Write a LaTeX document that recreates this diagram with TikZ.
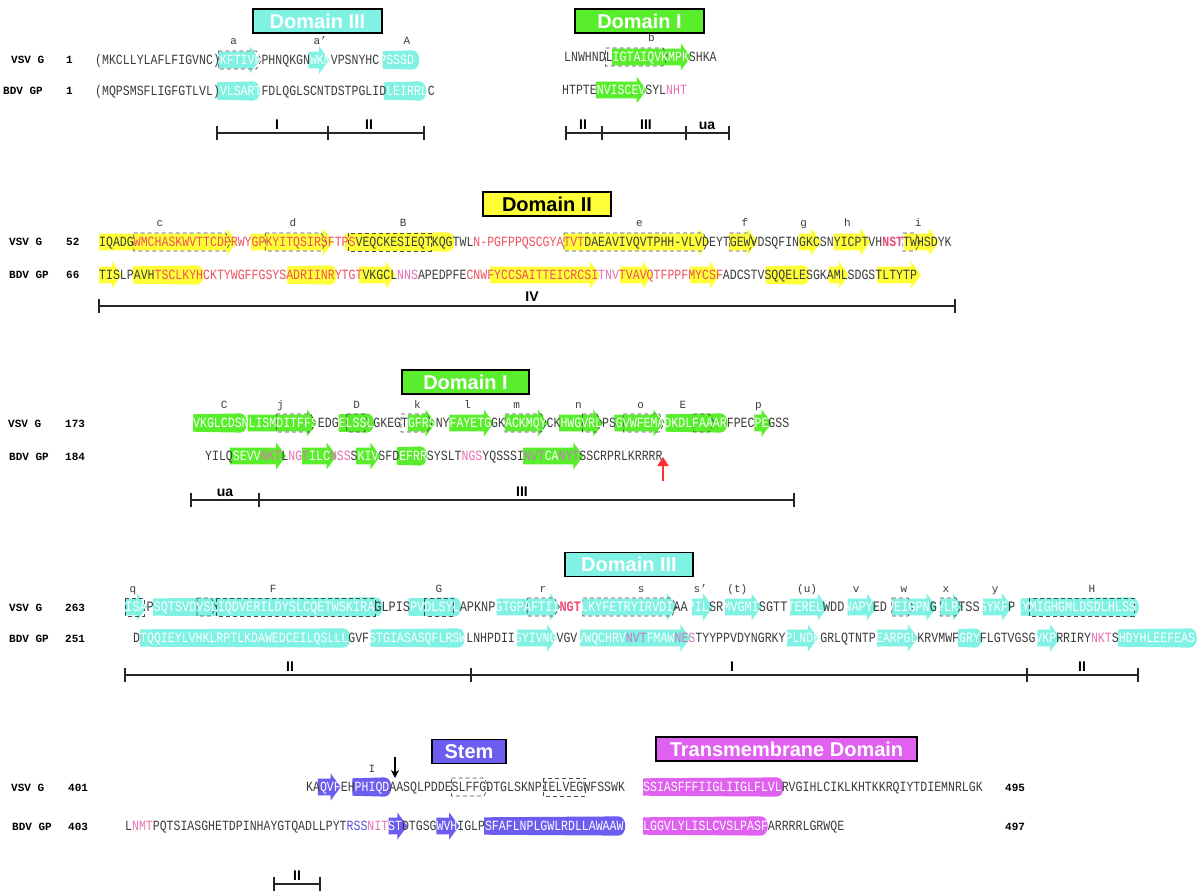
\documentclass[tikz,border=0pt]{standalone}
\usepackage{fontspec}
\usepackage{graphicx}
\setsansfont{Liberation Sans}
\newfontfamily\seqmono{Liberation Mono}
\usetikzlibrary{arrows.meta}
\definecolor{cy}{HTML}{80F2E4}
\definecolor{gr}{HTML}{58EE2C}
\definecolor{ye}{HTML}{FFFF38}
\definecolor{bl}{HTML}{6C5CF0}
\definecolor{mg}{HTML}{E060F0}
\definecolor{tk}{HTML}{3C3C3C}
\definecolor{tr}{HTML}{EE5060}
\definecolor{tp}{HTML}{E870B4}
\definecolor{tpb}{HTML}{EC4A78}
\definecolor{tv}{HTML}{C878C0}
\definecolor{tb}{HTML}{5A50D8}
\definecolor{arrred}{HTML}{FF3030}
\newcommand\qk[1]{\textcolor{tk}{#1}}
\newcommand\qw[1]{\textcolor{white}{#1}}
\newcommand\qr[1]{\textcolor{tr}{#1}}
\newcommand\qp[1]{\textcolor{tp}{#1}}
\newcommand\qpb[1]{\textcolor{tpb}{\bfseries #1}}
\newcommand\qv[1]{\textcolor{tv}{#1}}
\newcommand\qb[1]{\textcolor{tb}{#1}}
\newcommand\Row[3]{\def\rx{#1}\def\rc{#2}\def\ry{#3}}
\newcommand\Str[3]{\fill[#1] ({\rx+#2*\rc},{\ry-8.3}) -- ({\rx+#3*\rc-10},{\ry-8.3}) -- ({\rx+#3*\rc-10},{\ry-13.5}) -- ({\rx+#3*\rc},{\ry}) -- ({\rx+#3*\rc-10},{\ry+13.5}) -- ({\rx+#3*\rc-10},{\ry+8.3}) -- ({\rx+#2*\rc},{\ry+8.3}) -- cycle;}
\newcommand\Hlx[3]{\fill[#1] ({\rx+#2*\rc},{\ry-8.7}) -- ({\rx+#3*\rc-7},{\ry-9.6}) .. controls ({\rx+#3*\rc+2.3},{\ry-9.6}) and ({\rx+#3*\rc+2.3},{\ry+9.6}) .. ({\rx+#3*\rc-7},{\ry+9.6}) -- ({\rx+#2*\rc},{\ry+8.7}) -- cycle;}
\newcommand\Dsa[2]{\draw[dsh] ({\rx+#1*\rc},{\ry-9}) -- ({\rx+#2*\rc-5},{\ry-9}) -- ({\rx+#2*\rc},{\ry}) -- ({\rx+#2*\rc-5},{\ry+9}) -- ({\rx+#1*\rc},{\ry+9}) -- cycle;}
\newcommand\Dsb[2]{\draw[dsh] ({\rx+#1*\rc},{\ry-9}) rectangle ({\rx+#2*\rc},{\ry+9});}
\newcommand\Seq[2]{\pgfmathsetmacro\fsz{\rc/0.60009}\node[seq,font={\seqmono\fontsize{\fsz}{\fsz}\selectfont}] (#1) at (\rx,{\ry+4.2}) {\scalebox{1}[1.22]{#2}};}
\newcounter{ln}
\newcommand\Lab[2]{\stepcounter{ln}\node[lab] (lab\arabic{ln}) at ({\rx+#1*\rc},{\ry-15}) {#2};}
\newcommand\Tick[2]{\draw[bar] (#1,{#2-7}) -- (#1,{#2+7});}
\begin{document}
\begin{tikzpicture}[x=1pt,y=-1pt,
  seq/.style={inner sep=0pt, anchor=base west},
  lab/.style={inner sep=0pt, anchor=base, font=\seqmono\fontsize{11}{12}\selectfont, text=tk},
  rowlab/.style={inner sep=0pt, anchor=base west, font=\seqmono\bfseries\fontsize{11}{12}\selectfont, text=black},
  dombox/.style={draw=black, line width=1.6pt, inner sep=0pt, font=\sffamily\bfseries\fontsize{20}{22}\selectfont, text=white, minimum height=24pt},
  barlab/.style={inner sep=0pt, anchor=base, font=\sffamily\bfseries\fontsize{14}{16}\selectfont, text=black},
  bar/.style={line width=1.4pt, draw=black!85},
  dsh/.style={draw=black!70, dash pattern=on 4pt off 3pt, line width=0.7pt}]
\fill[white] (0,0) rectangle (1200,893);
\useasboundingbox (0,0) rectangle (1200,893);

% ---------- Domain boxes ----------
\node[dombox, fill=cy, minimum width=129pt] (d3top) at (317.5,21) {Domain III};
\node[dombox, fill=gr, minimum width=129pt] (d1top) at (639.5,21) {Domain I};
\node[dombox, fill=ye, text=black, minimum width=128pt] (d2) at (547,204) {Domain II};
\node[dombox, fill=gr, minimum width=127pt] (d1mid) at (465.5,382) {Domain I};
\node[dombox, fill=cy, minimum width=128pt] (d3mid) at (629,564.5) {Domain III};
\node[dombox, fill=bl, minimum width=74pt] (stem) at (469,751.5) {Stem};
\node[dombox, fill=mg, minimum width=261pt] (tm) at (786.5,749) {Transmembrane Domain};

% ---------- Row labels ----------
\node[rowlab] (l1v) at (11,64) {VSV G};  \node[rowlab] (n1v) at (66,64) {1};
\node[rowlab] (l1b) at (3,95) {BDV GP};  \node[rowlab] (n1b) at (66,95) {1};
\node[rowlab] (l2v) at (9,246) {VSV G};  \node[rowlab] (n2v) at (66,246) {52};
\node[rowlab] (l2b) at (9,279) {BDV GP}; \node[rowlab] (n2b) at (66,279) {66};
\node[rowlab] (l3v) at (8,427) {VSV G};  \node[rowlab] (n3v) at (65,427) {173};
\node[rowlab] (l3b) at (9,460) {BDV GP}; \node[rowlab] (n3b) at (65,460) {184};
\node[rowlab] (l4v) at (9,611) {VSV G};  \node[rowlab] (n4v) at (65,611) {263};
\node[rowlab] (l4b) at (9,642) {BDV GP}; \node[rowlab] (n4b) at (65,642) {251};
\node[rowlab] (l5v) at (11,791) {VSV G}; \node[rowlab] (n5v) at (68,791) {401};
\node[rowlab] (l5b) at (12,830) {BDV GP};\node[rowlab] (n5b) at (68,830) {403};
\node[rowlab] (e5v) at (1005,791) {495};
\node[rowlab] (e5b) at (1005,830) {497};

% ---------- Row 1 ----------
\Row{95}{6.93}{60}
\Str{cy}{17.8}{23.8}\Str{cy}{30.8}{33.8}\Hlx{cy}{41.5}{46.8}
\Dsa{17.8}{24}
\Seq{v1a}{\qk{(MKCLLYLAFLFIGVNC)}\qw{KFTIVF}\qk{PHNQKGN}\qw{WKN}\qk{VPSNYHC}\qw{PSSSD}}
\Lab{20}{a}\Lab{32.5}{a’}\Lab{45}{A}
\Row{95}{6.93}{91}
\Hlx{cy}{17.6}{23.8}\Hlx{cy}{41.7}{47.8}
\Seq{b1a}{\qk{(MQPSMSFLIGFGTLVL)}\qw{VLSART}\qk{FDLQGLSCNTDSTPGLID}\qw{LEIRRL}\qk{C}}
\Row{564}{6.93}{57}
\Str{gr}{6.9}{18.3}\Dsa{6}{15}
\Seq{v1b}{\qk{LNWHNDL}\qw{IGTAIQVKMPK}\qk{SHKA}}
\Lab{12.6}{b}
\Row{562}{6.93}{90}
\Str{gr}{4.9}{12.2}
\Seq{b1b}{\qk{HTPTE}\qw{NVISCEV}\qk{SYL}\qp{NHT}}
% bars row 1
\draw[bar] (217,133) -- (424,133); \Tick{217}{133}\Tick{328}{133}\Tick{424}{133}
\node[barlab] (bl1) at (277,130) {I}; \node[barlab] (bl2) at (369,130) {II};
\draw[bar] (566,133) -- (729,133); \Tick{566}{133}\Tick{602}{133}\Tick{686}{133}\Tick{729}{133}
\node[barlab] (bl3) at (583,130) {II}; \node[barlab] (bl4) at (646,130) {III}; \node[barlab] (bl5) at (707,130) {ua};

% ---------- Row 2 ----------
\Row{99}{6.93}{242}
\Str{ye}{0}{19.9}\Str{ye}{21.9}{33.8}\Hlx{ye}{35.5}{51.3}\Str{ye}{67}{88}
\Str{ye}{90.9}{95}\Str{ye}{101}{104.2}\Str{ye}{106}{111.3}\Str{ye}{116.2}{121.2}
\Dsa{5}{19}\Dsa{24}{32.8}\Dsb{36}{48}\Dsa{67.1}{87.9}\Dsa{91}{94.5}\Dsa{116}{118.5}
\Seq{v2}{\qk{IQADG}\qr{WMCHASKWVTTCDFRWYGPKYITQSIRSFTPS}\qk{VEQCKESIEQTKQGTWL}\qr{N-PGFPPQSCGYATVT}\qk{DAEAVIVQVTPHH-VLVDEYTGEWVDSQFINGKCSNYICPTVH}\qpb{NST}\qk{TWHSDYK}}
\Lab{8.8}{c}\Lab{28}{d}\Lab{43.9}{B}\Lab{78}{e}\Lab{93.2}{f}\Lab{101.7}{g}\Lab{108}{h}\Lab{118.2}{i}
\Row{99}{6.93}{275}
\Str{ye}{0}{3.3}\Hlx{ye}{4.9}{15.1}\Hlx{ye}{27.2}{34.3}\Str{ye}{37.5}{42.8}\Str{ye}{56.4}{72.3}
\Str{ye}{75.2}{79.9}\Str{ye}{85.3}{89.6}\Hlx{ye}{96.2}{102.5}\Str{ye}{105.3}{108.2}\Str{ye}{112.3}{118.6}
\Seq{b2}{\qk{TISLPAVH}\qr{TSCLKYHCKTYWGFFGSYSADRIINRYTGT}\qk{VKGCL}\qp{NNS}\qk{APEDPFE}\qr{CNWFYCCSAITTEICRCSI}\qp{TNV}\qr{TVAVQTFPPFMYCSF}\qk{ADCSTVSQQELESGKAMLSDGSTLTYTP}}
\draw[bar] (99,306) -- (955,306); \Tick{99}{306}\Tick{955}{306}
\node[barlab] (bl6) at (532,302) {IV};

% ---------- Row 3 ----------
\Row{193}{6.93}{423}
\Hlx{gr}{0}{7.8}\Str{gr}{7.9}{17.9}\Hlx{gr}{21}{26.1}\Str{gr}{31}{35}\Str{gr}{37}{43.4}
\Str{gr}{45}{51.2}\Str{gr}{52.8}{59.2}\Str{gr}{60.8}{67.9}\Hlx{gr}{68.2}{77.1}\Str{gr}{81}{83.5}
\Dsa{12}{17.7}\Dsa{22.2}{25.4}\Dsa{30}{34.5}\Dsa{45}{51}\Dsa{56.2}{59}\Dsa{62.1}{68}\Dsa{72.2}{75.2}
\Seq{v3}{\qw{VKGLCDSNLISMDITFFS}\qk{EDG}\qw{ELSSL}\qk{GKEGT}\qw{GFRS}\qk{NY}\qw{FAYETG}\qk{GK}\qw{ACKMQY}\qk{CK}\qw{HWGVRL}\qk{PS}\qw{GVWFEMADKDLFAAAR}\qk{FPEC}\qw{PE}\qk{GSS}}
\Lab{4.5}{C}\Lab{12.6}{j}\Lab{23.6}{D}\Lab{32.4}{k}\Lab{39.6}{l}\Lab{46.7}{m}\Lab{55.6}{n}\Lab{64.6}{o}\Lab{70.7}{E}\Lab{81.6}{p}
\Row{205}{6.93}{456}
\Str{gr}{3.6}{11.7}\Str{gr}{14}{19}\Str{gr}{21.8}{25.3}\Hlx{gr}{27.7}{32}\Str{gr}{45.9}{54.6}
\Seq{b3}{\qk{YILQ}\qw{SEVV}\qp{NKT}\qk{L}\qp{NGT}\qw{ILC}\qp{NSS}\qk{S}\qw{KIV}\qk{SFD}\qw{EFRR}\qk{SYSLT}\qp{NGS}\qk{YQSSSI}\qv{NVT}\qw{CA}\qv{NYT}\qk{SSCRPRLKRRRR}}
\coordinate (ra) at (663,481);
\coordinate (rb) at (663,457);
\draw[-{Triangle[length=9pt,width=11pt]}, line width=2.6pt, draw=arrred] (ra) -- (rb);
\draw[bar] (191,500) -- (794,500); \Tick{191}{500}\Tick{259}{500}\Tick{794}{500}
\node[barlab] (bl7) at (225,496) {ua}; \node[barlab] (bl8) at (522,496) {III};

% ---------- Row 4 ----------
\Row{125}{7.12}{607}
\Str{cy}{0}{3.1}\Hlx{cy}{3.9}{36.2}\Hlx{cy}{39.8}{47.2}\Str{cy}{52.2}{61.1}\Str{cy}{64.2}{77.5}
\Str{cy}{79.6}{82.6}\Str{cy}{84.3}{89.4}\Str{cy}{93.4}{98.7}\Str{cy}{101.5}{105.6}\Str{cy}{107.7}{114}
\Str{cy}{114.5}{117.7}\Str{cy}{120.5}{124.6}\Hlx{cy}{125.8}{142.4}
\Dsb{0}{2.7}\Dsa{10.1}{12.8}\Dsb{12.8}{35.1}\Dsb{42.1}{46.1}\Dsa{56.5}{61}\Dsa{64.3}{77.5}
\Dsa{107.7}{110.7}\Dsa{114.5}{117.4}\Dsb{127}{141.7}
\Seq{v4}{\qw{ISA}\qk{P}\qw{SQTSVDVSLIQDVERILDYSLCQETWSKIRA}\qk{GLPIS}\qw{PVDLSYL}\qk{APKNP}\qw{GTGPAFTII}\qpb{NGT}\qw{LKYFETRYIRVDI}\qk{AA}\qw{PIL}\qk{SR}\qw{MVGMI}\qk{SGTT}\qw{TEREL}\qk{WDD}\qw{WAPY}\qk{ED}\qw{VEIGPN}\qk{G}\qw{VLR}\qk{TSS}\qw{GYKF}\qk{P}\qw{LYMIGHGMLDSDLHLSS}}
\Lab{1.1}{q}\Lab{20.8}{F}\Lab{44.1}{G}\Lab{58.7}{r}\Lab{72.5}{s}\Lab{80.8}{s’}\Lab{86}{(t)}\Lab{95.8}{(u)}\Lab{102.7}{v}\Lab{109.4}{w}\Lab{115.3}{x}\Lab{122.2}{y}\Lab{135.8}{H}
\Row{133}{6.94}{638}
\Hlx{cy}{1}{31.3}\Hlx{cy}{34.2}{47.8}\Str{cy}{55.3}{61.1}\Str{cy}{64.4}{80.3}\Str{cy}{94.2}{98.7}
\Str{cy}{107.2}{113.1}\Hlx{cy}{118.9}{122.3}\Str{cy}{130.3}{133.6}\Hlx{cy}{141.9}{153.3}
\Seq{b4}{\qk{D}\qw{TQQIEYLVHKLRPTLKDAWEDCEILQSLLL}\qk{GVF}\qw{STGIASASQFLRSW}\qk{LNHPDII}\qw{GYIVNG}\qk{VGV}\qw{VWQCHRV}\qv{NVT}\qw{FMAW}\qv{NES}\qk{TYYPPVDYNGRKY}\qw{PLNDF}\qk{GRLQTNTP}\qw{EARPGL}\qk{KRVMWF}\qw{GRY}\qk{FLGTVGSG}\qw{VKP}\qk{RRIRY}\qp{NKT}\qk{S}\qw{HDYHLEEFEAS}}
\draw[bar] (125,675) -- (1138,675); \Tick{125}{675}\Tick{471}{675}\Tick{1027}{675}\Tick{1138}{675}
\node[barlab] (bl9) at (290,671) {II}; \node[barlab] (bl10) at (732,671) {I}; \node[barlab] (bl11) at (1082,671) {II};

% ---------- Row 5 ----------
\Row{306}{6.93}{787}
\Str{bl}{1.7}{5}\Hlx{bl}{6.7}{12.3}
\Dsa{21}{26.4}\Dsb{34.2}{40.3}
\Seq{v5}{\qk{KA}\qw{QVF}\qk{EH}\qw{PHIQD}\qk{AASQLPDDESLFFGDTGLSKNPIELVEGWFSSWK}}
\Lab{9.5}{I}
\coordinate (ka) at (395,757);
\coordinate (kb) at (395,778);
\draw[-{Stealth[length=8pt,width=8pt]}, line width=1.5pt] (ka) -- (kb);
\Row{643}{6.93}{787}
\Hlx{mg}{0}{20.3}
\Seq{v5tm}{\qw{SSIASFFFIIGLIIGLFLVL}\qk{RVGIHLCIKLKHTKKRQIYTDIEMNRLGK}}
\Row{125}{6.92}{826}
\Str{bl}{38.1}{40.8}\Str{bl}{45}{48.3}\Hlx{bl}{51.9}{72.3}
\Seq{b5}{\qk{L}\qp{NMT}\qk{PQTSIASGHETDPINHAYGTQADLLPYT}\qb{RSS}\qp{NIT}\qw{ST}\qk{DTGSG}\qw{WVH}\qk{IGLP}\qw{SFAFLNPLGWLRDLLAWAAW}}
\Row{643}{6.93}{826}
\Hlx{mg}{0}{18}
\Seq{b5tm}{\qw{LGGVLYLISLCVSLPASF}\qk{ARRRRLGRWQE}}
\draw[bar] (274,884) -- (320,884); \Tick{274}{884}\Tick{320}{884}
\node[barlab] (bl12) at (297,880) {II};
\end{tikzpicture}
\end{document}
